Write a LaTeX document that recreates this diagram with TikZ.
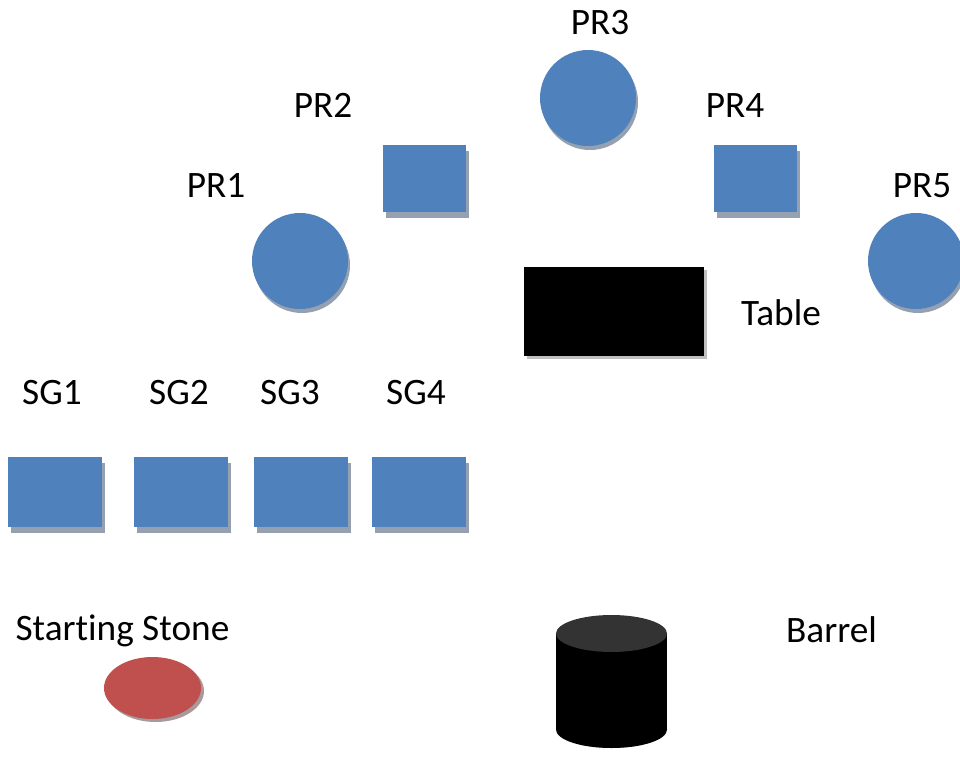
\documentclass[tikz,border=0pt]{standalone}
\usepackage{fontspec}
\setmainfont[Ligatures=NoCommon]{Carlito}
\usepackage{xcolor}
\usetikzlibrary{shapes.geometric,calc}
\definecolor{shapeblue}{HTML}{4F81BD}
\definecolor{blueshadow}{HTML}{95A0B0}
\definecolor{stonered}{HTML}{C0504D}
\definecolor{redshadow}{HTML}{A89A9B}
\definecolor{greyshadow}{HTML}{BFBFBF}
\definecolor{barreltop}{HTML}{333333}

\begin{document}
\begin{tikzpicture}[x=1pt,y=-1pt,
	lbl/.style={anchor=base,inner sep=0,font=\fontsize{37.3}{40}\selectfont},
	boxshadow/.style={preaction={fill=#1,transform canvas={xshift=3pt,yshift=-6pt}}},
	roundshadow/.style={preaction={fill=#1,transform canvas={xshift=2pt,yshift=-4pt}}},
	bluebox/.style={rectangle,fill=shapeblue,boxshadow=blueshadow,inner sep=0,minimum width=#1,minimum height=67pt},
	sgbox/.style={rectangle,fill=shapeblue,boxshadow=blueshadow,inner sep=0,minimum width=94pt,minimum height=70pt},
	bluedisc/.style={circle,fill=shapeblue,roundshadow=blueshadow,inner sep=0,minimum size=96pt}]
	\useasboundingbox (0,0) rectangle (960,762);
	% players round the table
	\node[bluedisc] (pr1) at (300,261) {};
	\node[bluebox=83pt] (pr2) at (424,178.5) {};
	\node[bluedisc] (pr3) at (588,98) {};
	\node[bluebox=83pt] (pr4) at (755.5,178.5) {};
	\node[bluedisc] (pr5) at (916,261) {};
	\node[rectangle,fill=black,inner sep=0,minimum width=180pt,minimum height=89pt,
		preaction={fill=greyshadow,transform canvas={xshift=3pt,yshift=-3pt}}] (table) at (614,311.5) {};
	% stone groups
	\node[sgbox] (sg1) at (55,492) {};
	\node[sgbox] (sg2) at (181,492) {};
	\node[sgbox] (sg3) at (301,492) {};
	\node[sgbox] (sg4) at (419,492) {};
	% starting stone
	\node[ellipse,fill=stonered,inner sep=0,minimum width=97pt,minimum height=62pt,
		preaction={fill=redshadow,transform canvas={xshift=3pt,yshift=-3pt}}] (stone) at (152.5,688) {};
	% barrel
	\coordinate (barrel) at (611.5,633.5);
	\begin{scope}[shift={(4,4)}]
		\fill[greyshadow] ($(barrel)+(-55.5,0)$) rectangle ($(barrel)+(55.5,96)$);
		\fill[greyshadow] ($(barrel)+(0,96)$) ellipse (55.5 and 18.5);
	\end{scope}
	\fill[black] ($(barrel)+(-55.5,0)$) rectangle ($(barrel)+(55.5,96)$);
	\fill[black] ($(barrel)+(0,96)$) ellipse (55.5 and 18.5);
	\fill[barreltop] (barrel) ellipse (55.5 and 18.5);
	% labels
	\node[lbl] (pr1 label) at (216,197) {PR1};
	\node[lbl] (pr2 label) at (323,118) {PR2};
	\node[lbl] (pr3 label) at (600,35) {PR3};
	\node[lbl] (pr4 label) at (735,118) {PR4};
	\node[lbl] (pr5 label) at (922,197) {PR5};
	\node[lbl] (table label) at (781,325) {Table};
	\node[lbl] (sg1 label) at (52,404) {SG1};
	\node[lbl] (sg2 label) at (179,404) {SG2};
	\node[lbl] (sg3 label) at (290,404) {SG3};
	\node[lbl] (sg4 label) at (416,404) {SG4};
	\node[lbl] (stone label) at (122.5,640) {Starting Stone};
	\node[lbl] (barrel label) at (831.5,642) {Barrel};
\end{tikzpicture}
\end{document}
